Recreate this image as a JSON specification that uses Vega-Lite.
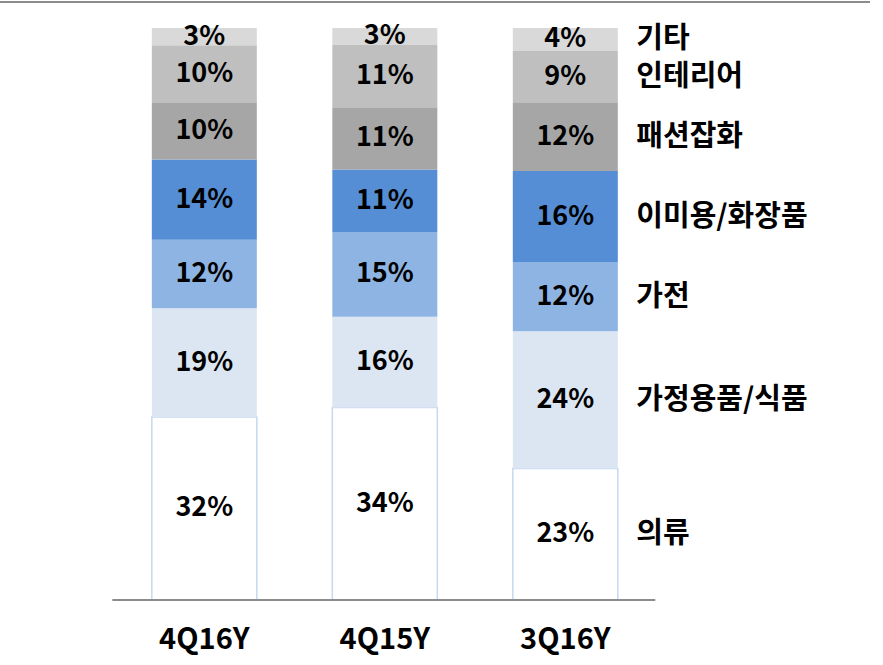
{
  "$schema": "https://vega.github.io/schema/vega-lite/v6.json",
  "width": 870,
  "height": 598,
  "autosize": "none",
  "padding": {"left": 0, "top": 2, "right": 13, "bottom": 65},
  "background": "white",
  "config": {"view": {"stroke": null}, "font": "Noto Sans CJK KR"},
  "datasets": {
    "shares": [
      {"q": "4Q16Y", "cat": "의류", "v": 0.32, "o": 1},
      {"q": "4Q16Y", "cat": "가정용품/식품", "v": 0.19, "o": 2},
      {"q": "4Q16Y", "cat": "가전", "v": 0.12, "o": 3},
      {"q": "4Q16Y", "cat": "이미용/화장품", "v": 0.14, "o": 4},
      {"q": "4Q16Y", "cat": "패션잡화", "v": 0.10, "o": 5},
      {"q": "4Q16Y", "cat": "인테리어", "v": 0.10, "o": 6},
      {"q": "4Q16Y", "cat": "기타", "v": 0.03, "o": 7},
      {"q": "4Q15Y", "cat": "의류", "v": 0.34, "o": 1},
      {"q": "4Q15Y", "cat": "가정용품/식품", "v": 0.16, "o": 2},
      {"q": "4Q15Y", "cat": "가전", "v": 0.15, "o": 3},
      {"q": "4Q15Y", "cat": "이미용/화장품", "v": 0.11, "o": 4},
      {"q": "4Q15Y", "cat": "패션잡화", "v": 0.11, "o": 5},
      {"q": "4Q15Y", "cat": "인테리어", "v": 0.11, "o": 6},
      {"q": "4Q15Y", "cat": "기타", "v": 0.03, "o": 7},
      {"q": "3Q16Y", "cat": "의류", "v": 0.23, "o": 1},
      {"q": "3Q16Y", "cat": "가정용품/식품", "v": 0.24, "o": 2},
      {"q": "3Q16Y", "cat": "가전", "v": 0.12, "o": 3},
      {"q": "3Q16Y", "cat": "이미용/화장품", "v": 0.16, "o": 4},
      {"q": "3Q16Y", "cat": "패션잡화", "v": 0.12, "o": 5},
      {"q": "3Q16Y", "cat": "인테리어", "v": 0.09, "o": 6},
      {"q": "3Q16Y", "cat": "기타", "v": 0.04, "o": 7}
    ],
    "frame": [{"first": "4Q16Y", "last": "3Q16Y", "top": 1.04545, "base": 0}]
  },
  "layer": [
    {
      "data": {"name": "shares"},
      "transform": [
        {"stack": "v", "groupby": ["q"], "sort": [{"field": "o"}], "offset": "normalize", "as": ["y0", "y1"]},
        {"calculate": "(datum.y0 + datum.y1) / 2", "as": "ym"}
      ],
      "layer": [
        {
          "mark": {"type": "bar", "strokeWidth": 1.5, "width": 105},
          "encoding": {
            "x": {"field": "q", "type": "nominal",
              "scale": {"domain": ["4Q16Y", "4Q15Y", "3Q16Y"], "paddingInner": 0.18, "paddingOuter": 1, "align": 0.361},
              "axis": {"title": null, "domain": false, "ticks": false, "labelAngle": 0, "labelPadding": 25,
                "labelFontSize": 29, "labelFontWeight": "bold", "labelColor": "#000000", "labelFont": "Noto Sans CJK KR"}},
            "y": {"field": "y0", "type": "quantitative", "scale": {"domain": [0, 1.04545], "nice": false, "zero": true}, "axis": null},
            "y2": {"field": "y1"},
            "color": {"field": "cat", "type": "nominal", "legend": null,
              "scale": {"domain": ["의류", "가정용품/식품", "가전", "이미용/화장품", "패션잡화", "인테리어", "기타"],
                "range": ["#ffffff", "#dce6f2", "#8eb4e3", "#558ed5", "#a6a6a6", "#bfbfbf", "#d9d9d9"]}},
            "stroke": {"condition": {"test": "datum.cat === '의류'", "value": "#c6d9f1"}, "value": null}
          }
        },
        {
          "mark": {"type": "text", "fontSize": 27, "fontWeight": "bold", "color": "#000000", "baseline": "middle", "align": "center"},
          "encoding": {
            "x": {"field": "q", "type": "nominal"},
            "y": {"field": "ym", "type": "quantitative"},
            "text": {"field": "v", "type": "quantitative", "format": ".0%"}
          }
        },
        {
          "transform": [{"filter": "datum.q === '3Q16Y'"}],
          "mark": {"type": "text", "fontSize": 29, "fontWeight": "bold", "color": "#000000", "baseline": "middle", "align": "left", "dx": 71},
          "encoding": {
            "x": {"field": "q", "type": "nominal"},
            "y": {"field": "ym", "type": "quantitative"},
            "text": {"field": "cat", "type": "nominal"}
          }
        }
      ]
    },
    {
      "data": {"name": "frame"},
      "layer": [
        {
          "mark": {"type": "rule", "color": "#8c8c8c", "strokeWidth": 2},
          "encoding": {"y": {"field": "top", "type": "quantitative"}}
        },
        {
          "mark": {"type": "rule", "color": "#8c8c8c", "strokeWidth": 2, "xOffset": -18, "x2Offset": 16},
          "encoding": {
            "x": {"field": "first", "type": "nominal", "bandPosition": 0},
            "x2": {"field": "last", "bandPosition": 1},
            "y": {"field": "base", "type": "quantitative"}
          }
        }
      ]
    }
  ]
}
